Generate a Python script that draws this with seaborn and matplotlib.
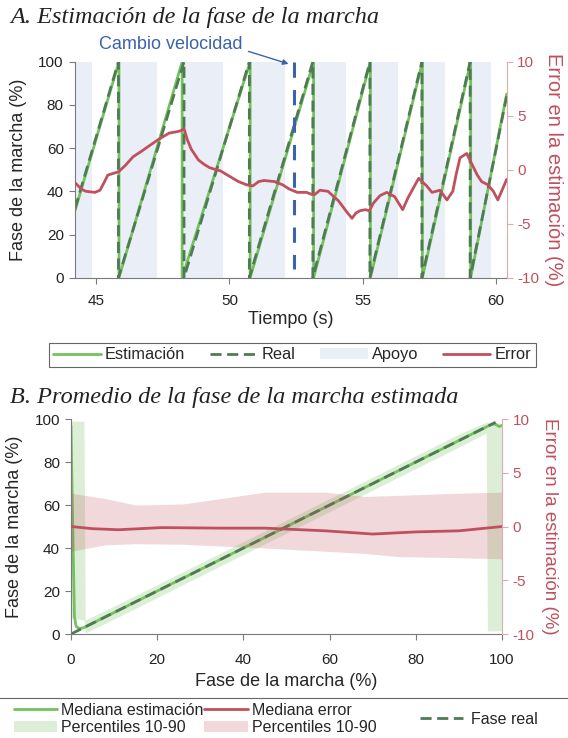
import numpy as np
import pandas as pd
import matplotlib
matplotlib.use('Agg')
import matplotlib.pyplot as plt
import seaborn as sns
from matplotlib.lines import Line2D
from matplotlib.patches import Patch, Rectangle

sns.set_style('ticks')
plt.rcParams['font.family'] = ['Liberation Sans', 'DejaVu Sans']
plt.rcParams['axes.unicode_minus'] = False

GREEN = '#74c15e'
DGREEN = '#4e7b54'
RED = '#c1505f'
PINK = '#dfa9b1'
BLUE = '#3d62ad'
APOYO = '#eaeef6'
GREY = '#7a7a7a'
DASH = (0, (4, 2))

### A. datos (tiempo en s, fase en %)
real_t = [44.21, 45.84, 45.84, 48.30, 48.30, 50.75, 50.75, 53.13, 53.13,
          55.27, 55.27, 57.22, 57.22, 59.03, 59.03, 60.40]
real_fase = [32, 100, 0, 100, 0, 100, 0, 100, 0, 100, 0, 100, 0, 100, 0, 84]

est_t = [44.21, 45.86, 45.86, 48.23, 48.23, 50.78, 50.78, 53.16, 53.16,
         55.29, 55.29, 57.24, 57.24, 59.05, 59.05, 60.40]
est_fase = [31, 100, 0, 100, 0, 100, 0, 100, 0, 100, 0, 100, 0, 100, 0, 85]

apoyo_ini = [44.21, 45.84, 48.30, 50.75, 53.20, 55.31, 57.22, 59.05]
apoyo_fin = [44.86, 47.28, 49.77, 52.10, 54.36, 56.33, 58.10, 59.80]

err_t = [44.21, 44.45, 44.62, 44.96, 45.15, 45.30, 45.44, 45.70, 45.84, 46.10,
         46.39, 46.70, 46.93, 47.34, 47.75, 48.00, 48.17, 48.30, 48.42, 48.57,
         48.84, 49.05, 49.25, 49.50, 49.66, 49.93, 50.34, 50.65, 50.88, 51.10,
         51.30, 51.70, 52.00, 52.25, 52.55, 52.90, 53.10, 53.20, 53.40, 53.70,
         54.10, 54.40, 54.60, 54.75, 54.90, 55.10, 55.25, 55.40, 55.65, 55.90,
         56.20, 56.50, 56.70, 56.90, 57.10, 57.40, 57.60, 57.90, 58.16, 58.38,
         58.50, 58.65, 58.90, 59.10, 59.30, 59.46, 59.70, 59.90, 60.07, 60.40]
err_v = [-1.2, -1.8, -2.0, -2.1, -1.9, -1.2, -0.5, -0.3, -0.2, 0.4,
         1.2, 1.7, 2.1, 2.8, 3.4, 3.5, 3.6, 3.8, 2.8, 1.9,
         0.9, 0.5, 0.2, 0.0, -0.1, -0.5, -1.1, -1.4, -1.5, -1.1,
         -1.0, -1.1, -1.4, -1.8, -2.1, -2.1, -2.3, -2.3, -1.9, -2.0,
         -2.9, -3.9, -4.5, -4.0, -3.8, -3.7, -3.8, -3.1, -2.4, -2.1,
         -2.5, -3.7, -2.6, -1.7, -0.8, -1.5, -2.1, -1.9, -2.8, -2.0,
         -0.5, 1.1, 1.5, 0.5, -0.5, -1.1, -1.4, -2.0, -2.8, -0.9]

t_cambio = 52.42

### B. datos (fase real en %)
med_x = [0, 0.4, 0.8, 1.2, 2.0, 3.0, 10, 30, 50, 70, 90, 97, 98, 98.7, 99.3, 100]
med_y = [97, 50, 8, 3.5, 2.5, 3.0, 10, 30, 50, 70, 90, 97, 97.8, 97.3, 96.5, 97]

gb_x = [0, 3.0, 3.3, 10, 30, 50, 70, 90, 96.3, 96.6, 100]
gb_lo = [7.5, 6.5, 0.5, 7, 27, 47, 67, 87, 93.5, 1.5, 1.5]
gb_hi = [99, 99, 6.5, 13, 33, 53, 73, 93, 98.5, 98.5, 98]

realB_x = [0, 98.5]
realB_y = [0, 98.5]

rm_x = [0, 5, 11, 21, 35, 45, 59, 70, 80, 90, 100]
rm_y = [0.0, -0.2, -0.3, -0.1, -0.15, -0.15, -0.4, -0.7, -0.5, -0.4, 0.0]

rb_x = [0, 8, 15, 26, 45, 59, 68, 76, 90, 100]
rb_hi = [3.1, 2.6, 2.0, 2.1, 3.2, 3.2, 2.8, 2.9, 3.1, 3.2]
rb_lo = [-2.3, -1.7, -1.6, -1.65, -2.0, -2.3, -2.5, -2.8, -2.9, -3.0]


def estilo(ax, axr, fs_der, xpad):
    for s in ['top', 'right']:
        ax.spines[s].set_visible(False)
    for s in ['top', 'left', 'bottom']:
        axr.spines[s].set_visible(False)
    ax.spines['left'].set_color(GREY)
    ax.spines['bottom'].set_color(GREY)
    axr.spines['right'].set_color(PINK)
    ax.tick_params(colors=GREY, labelcolor='#222222', labelsize=11, length=4, pad=4)
    ax.tick_params(axis='x', pad=xpad)
    axr.tick_params(colors=PINK, labelcolor=RED, labelsize=11, length=4)
    axr.set_ylim(-10, 10)
    axr.set_yticks([-10, -5, 0, 5, 10])
    axr.set_ylabel('Error en la estimación (%)', color=RED, fontsize=fs_der,
                   rotation=270, labelpad=17)


fig = plt.figure(figsize=(5.68, 7.38), dpi=100)

## A
ax1 = fig.add_axes([0.132, 0.6237, 0.760, 0.2927])
for a, b in zip(apoyo_ini, apoyo_fin):
    ax1.axvspan(a, b, color=APOYO, lw=0, zorder=0)
sns.lineplot(x=est_t, y=est_fase, estimator=None, sort=False, color=GREEN, lw=2, ax=ax1)
sns.lineplot(x=real_t, y=real_fase, estimator=None, sort=False, color=DGREEN, lw=2,
             linestyle=DASH, ax=ax1)
ax1.plot([t_cambio, t_cambio], [100, 4], color=BLUE, lw=2.2, linestyle=(0, (5, 4)))
ax1.annotate('Cambio velocidad', xy=(t_cambio - 0.2, 99), xytext=(47.8, 108),
             ha='center', va='center', color=BLUE, fontsize=13, annotation_clip=False,
             arrowprops=dict(arrowstyle='-|>', color=BLUE, lw=1, mutation_scale=8,
                             relpos=(1.0, 0.2), shrinkA=2, shrinkB=0))
ax1.set_xlim(44.21, 60.4)
ax1.set_ylim(0, 100)
ax1.set_xticks([45, 50, 55, 60])
ax1.set_yticks([0, 20, 40, 60, 80, 100])
ax1.set_xlabel('Tiempo (s)', fontsize=13, labelpad=2)
ax1.set_ylabel('Fase de la marcha (%)', fontsize=13, labelpad=8)

ax1r = ax1.twinx()
sns.lineplot(x=err_t, y=err_v, estimator=None, sort=False, color=RED, lw=2, ax=ax1r)
estilo(ax1, ax1r, 14.5, 8)

fig.text(0.018, 0.976, 'A. Estimación de la fase de la marcha', fontsize=17.5,
         family='Liberation Serif', style='italic', va='center', color='#222222')

hA = [Line2D([], [], color=GREEN, lw=2),
      Line2D([], [], color=DGREEN, lw=2, linestyle=DASH),
      Patch(facecolor=APOYO, edgecolor='none'),
      Line2D([], [], color=RED, lw=2)]
legA = fig.legend(hA, ['Estimación', 'Real', 'Apoyo', 'Error'], loc='center',
                  bbox_to_anchor=(0.5145, 0.519), ncol=4, fontsize=11.8,
                  handlelength=2.9, handletextpad=0.25, columnspacing=1.5,
                  fancybox=False, edgecolor='#666666', framealpha=1,
                  borderpad=0.3)
legA.get_frame().set_linewidth(0.8)

## B
ax2 = fig.add_axes([0.125, 0.1409, 0.759, 0.2913])
ax2.fill_between(gb_x, gb_lo, gb_hi, color=GREEN, alpha=0.25, lw=0)
sns.lineplot(x=med_x, y=med_y, estimator=None, sort=False, color=GREEN, lw=2, ax=ax2)
sns.lineplot(x=realB_x, y=realB_y, estimator=None, sort=False, color=DGREEN, lw=2,
             linestyle=DASH, ax=ax2)
ax2.set_xlim(0, 100)
ax2.set_ylim(0, 100)
ax2.set_xticks([0, 20, 40, 60, 80, 100])
ax2.set_yticks([0, 20, 40, 60, 80, 100])
ax2.set_xlabel('Fase de la marcha (%)', fontsize=13, labelpad=4)
ax2.set_ylabel('Fase de la marcha (%)', fontsize=13, labelpad=8)

ax2r = ax2.twinx()
ax2r.fill_between(rb_x, rb_lo, rb_hi, color=RED, alpha=0.22, lw=0)
sns.lineplot(x=rm_x, y=rm_y, estimator=None, sort=False, color=RED, lw=2, ax=ax2r)
estilo(ax2, ax2r, 13.5, 10)

fig.text(0.018, 0.462, 'B. Promedio de la fase de la marcha estimada', fontsize=17.5,
         family='Liberation Serif', style='italic', va='center', color='#222222')

fig.patches.append(Rectangle((-0.01, -0.01), 1.02, 0.0637, transform=fig.transFigure,
                             fill=False, edgecolor='#666666', lw=0.8))
hB = [Line2D([], [], color=GREEN, lw=2),
      Patch(facecolor=GREEN, alpha=0.25, edgecolor='none'),
      Line2D([], [], color=RED, lw=2),
      Patch(facecolor=RED, alpha=0.22, edgecolor='none')]
fig.legend(hB, ['Mediana estimación', 'Percentiles 10-90', 'Mediana error',
                'Percentiles 10-90'], loc='center left', bbox_to_anchor=(0.025, 0.0255),
           ncol=2, fontsize=11.5, frameon=False, handlelength=2.7, handletextpad=0.25,
           columnspacing=0.05, labelspacing=0.15, borderpad=0, borderaxespad=0)
fig.legend([Line2D([], [], color=DGREEN, lw=2, linestyle=DASH)], ['Fase real'],
           loc='center left', bbox_to_anchor=(0.74, 0.0255), fontsize=11.5, frameon=False,
           handlelength=2.7, handletextpad=0.5, borderpad=0, borderaxespad=0)

fig.savefig('out.png', dpi=100)
